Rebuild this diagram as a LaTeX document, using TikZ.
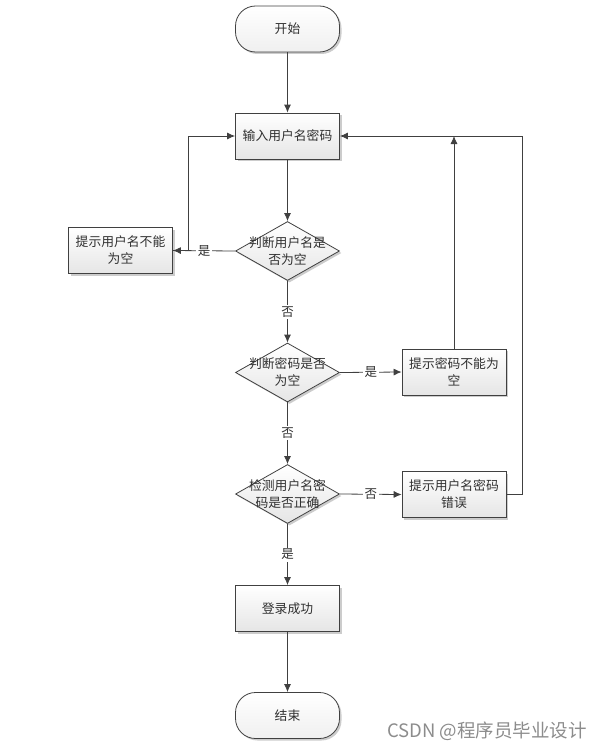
\documentclass[tikz,border=0pt]{standalone}
\usepackage{fontspec}
\setmainfont{Noto Sans CJK SC}
\usetikzlibrary{arrows.meta,shapes.geometric,shadows}
\definecolor{linec}{HTML}{404040}
\definecolor{textc}{HTML}{303030}
\tikzset{
  base/.style={draw=linec, line width=0.8pt, top color=white, bottom color=black!10,
    text=textc, font=\fontsize{12.8}{17}\selectfont, align=center, inner sep=0pt,
    drop shadow={shadow xshift=2pt, shadow yshift=-2pt, fill=black!25, opacity=0.8}},
  procbox/.style={base, rectangle, minimum width=104pt, minimum height=46pt},
  termbox/.style={base, rectangle, rounded corners=20pt, minimum width=104pt, minimum height=46pt, bottom color=black!6},
  decbox/.style={base, diamond, minimum width=104pt, minimum height=59pt},
  dectext/.style={text=textc, font=\fontsize{12.8}{17}\selectfont, align=center, inner sep=0pt},
  conn/.style={draw=linec, line width=0.8pt, -{Latex[length=8pt,width=7pt]}},
  lbl/.style={fill=white, text=textc, font=\fontsize{12.5}{14}\selectfont, inner sep=1.5pt}
}
\begin{document}
\begin{tikzpicture}[x=1pt,y=-1pt]
\useasboundingbox (0,0) rectangle (609,752);
% nodes
\node[termbox] (start) at (287.5,29) {开始};
\node[procbox] (input) at (287.5,136) {输入用户名密码};
\node[decbox] (d1) at (287.5,251) {};
\node[dectext] (d1t) at (d1) {判断用户名是\\否为空};
\node[procbox] (left) at (120.5,250.5) {提示用户名不能\\为空};
\node[decbox] (d2) at (287.5,372.5) {};
\node[dectext] (d2t) at (d2) {判断密码是否\\为空};
\node[procbox] (pw) at (454,372) {提示密码不能为\\空};
\node[decbox] (d3) at (287.5,494) {};
\node[dectext] (d3t) at (d3) {检测用户名密\\码是否正确};
\node[procbox] (err) at (454,494.5) {提示用户名密码\\错误};
\node[procbox] (ok) at (287.5,608.5) {登录成功};
\node[termbox] (end) at (287.5,715.5) {结束};
\coordinate (j1) at (pw.north |- input.east);
% connectors
\draw[conn] (start) -- (input);
\draw[conn] (input) -- (d1);
\draw[conn] (d1.west) -- node[lbl] {是} (left.east);
\draw[conn] (left.east) -- ++(15,0) |- (input.west);
\draw[conn] (d1.south) -- node[lbl] {否} (d2.north);
\draw[conn] (d2.east) -- node[lbl] {是} (pw.west);
\draw[conn] (pw.north) -- (j1);
\draw[conn] (d2.south) -- node[lbl] {否} (d3.north);
\draw[conn] (d3.east) -- node[lbl] {否} (err.west);
\draw[conn] (err.east) -- ++(16,0) |- (input.east);
\draw[conn] (d3.south) -- node[lbl] {是} (ok.north);
\draw[conn] (ok) -- (end);
% watermark
\node[text=black!45, font=\fontsize{18.5}{22}\selectfont, inner sep=0pt] (wm) at (487,731) {CSDN @程序员毕业设计};
\end{tikzpicture}
\end{document}
